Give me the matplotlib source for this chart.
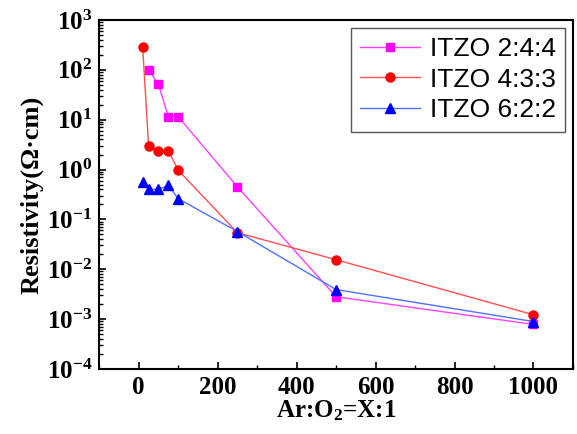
import matplotlib
matplotlib.use("Agg")
import matplotlib.pyplot as plt
from matplotlib.ticker import LogLocator, MultipleLocator, NullFormatter

plt.rcParams['mathtext.fontset'] = 'custom'
plt.rcParams['mathtext.rm'] = 'Liberation Serif:bold'
plt.rcParams['mathtext.it'] = 'Liberation Serif:bold'
plt.rcParams['mathtext.bf'] = 'Liberation Serif:bold'

x = [10, 25, 50, 75, 100, 250, 500, 1000]
x_244 = [25, 50, 75, 100, 250, 500, 1000]
r_244 = [100, 51, 11.5, 11.5, 0.45, 0.0028, 0.00078]
r_433 = [290, 3.0, 2.4, 2.4, 0.97, 0.054, 0.0155, 0.00122]
r_622 = [0.57, 0.40, 0.40, 0.48, 0.26, 0.057, 0.0039, 0.00089]
labels = ['ITZO 2:4:4', 'ITZO 4:3:3', 'ITZO 6:2:2']
yticks = [1e-4, 1e-3, 1e-2, 1e-1, 1e0, 1e1, 1e2, 1e3]
xticks = [0, 200, 400, 600, 800, 1000]

fig = plt.figure(figsize=(5.77, 4.34), dpi=100)
ax = fig.add_axes([0.172, 0.150, 0.821, 0.804])

ax.plot(x_244, r_244, color='#ff40ff', lw=1.0, marker='s', ms=5.5,
        mfc='#ff00ff', mec='#ff00ff', label=labels[0])
ax.plot(x, r_433, color='#ff5050', lw=1.0, marker='o', ms=6.5,
        mfc='#ff0000', mec='#ff0000', label=labels[1])
ax.plot(x, r_622, color='#5070ff', lw=1.0, marker='^', ms=7,
        mfc='#0000ff', mec='#0000ff', label=labels[2])

ax.set_yscale('log')
ax.set_ylim(1e-4, 1e3)
ax.set_xlim(-100, 1100)
ax.set_yticks(yticks)
ax.set_yticklabels([r'$10^{%d}$' % k for k in range(-4, 4)])
ax.yaxis.set_minor_locator(LogLocator(base=10, subs=range(2, 10), numticks=20))
ax.yaxis.set_minor_formatter(NullFormatter())
ax.set_xticks(xticks)
ax.xaxis.set_minor_locator(MultipleLocator(100))

ax.tick_params(which='both', direction='in', top=False, right=False)
ax.tick_params(which='major', length=5, width=1.2, labelsize=18, pad=5)
ax.tick_params(which='minor', length=3, width=1.0)
for lab in ax.get_xticklabels():
    lab.set_fontfamily('Liberation Serif')
    lab.set_fontweight('bold')
for sp in ax.spines.values():
    sp.set_linewidth(1.5)

ax.set_xlabel(r'Ar:O$_2$=X:1', fontsize=18, fontfamily='Liberation Serif',
              fontweight='bold', labelpad=0)
ax.set_ylabel('Resistivity(Ω·cm)', fontsize=19, fontfamily='Liberation Serif',
              fontweight='bold', labelpad=2)

leg = ax.legend(loc='upper right', prop={'family': 'Liberation Sans', 'size': 19},
                fancybox=False, edgecolor='#555555', framealpha=1,
                handlelength=2.3, borderaxespad=0.3, labelspacing=0.25,
                handletextpad=0.35, borderpad=0.35)
leg.get_frame().set_linewidth(1.0)

fig.savefig('out.png', dpi=100)
